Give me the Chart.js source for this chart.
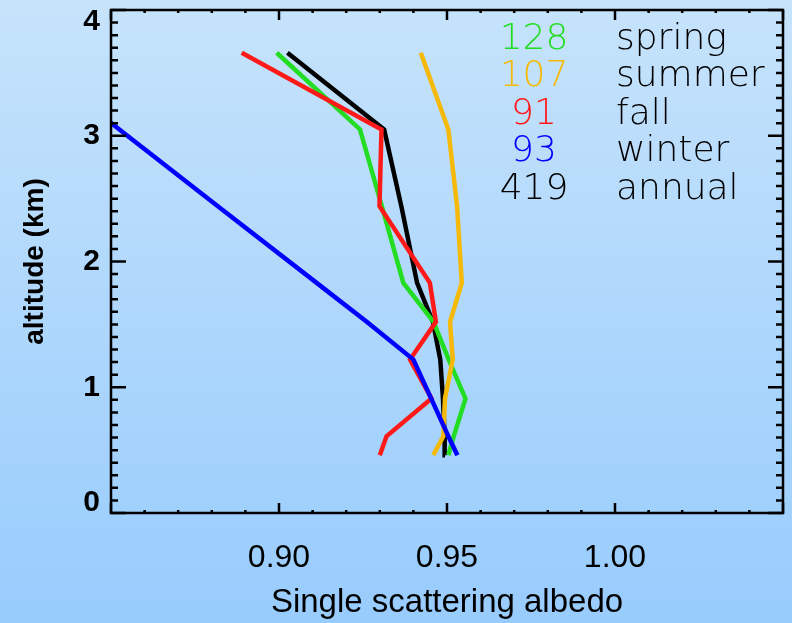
<!DOCTYPE html>
<html>
<head>
<meta charset="utf-8">
<script src="https://cdn.jsdelivr.net/npm/chart.js@4/dist/chart.umd.min.js"></script>
<style>
  html, body { margin: 0; padding: 0; }
  body {
    width: 792px; height: 623px; overflow: hidden;
    background: linear-gradient(#c6e3fb, #98ccfd);
  }
  #wrap { position: relative; width: 792px; height: 623px; }
</style>
</head>
<body>
<div id="wrap"><canvas id="ssa" width="792" height="623"></canvas></div>
<script>
// altitude levels (km) shared by every profile
const altitudes = [0.46, 0.61, 0.91, 1.22, 1.52, 1.83, 2.44, 3.05, 3.66];

// single scattering albedo per level
const spring = [0.9504, 0.9520, 0.9555, 0.9505, 0.9460, 0.9370, 0.9306, 0.9241, 0.8993];
const summer = [0.9459, 0.9489, 0.9494, 0.9517, 0.9509, 0.9544, 0.9530, 0.9504, 0.9422];
const fall   = [0.9300, 0.9320, 0.9454, 0.9390, 0.9467, 0.9449, 0.9299, 0.9305, 0.8889];
const winter = [0.9531, 0.9504, 0.9453, 0.9400, 0.9261, 0.9112, 0.8818, 0.8525, 0.8231];
const annual = [0.9494, 0.9493, 0.9488, 0.9480, 0.9458, 0.9411, 0.9364, 0.9313, 0.9025];

// number of profiles in each season
const seasons = ['spring', 'summer', 'fall', 'winter', 'annual'];
const counts  = [128, 107, 91, 93, 419];
const colors  = ['#22dd22', '#f5b90a', '#ff1a1a', '#0000ff', '#000000'];
const series  = [spring, summer, fall, winter, annual];
const drawOrder = [4, 3, 2, 1, 5];

const X_MIN = 0.85, X_MAX = 1.05;
const Y_MIN = 0, Y_MAX = 4;

// box, inward tick marks, y labels and season counts
const framePlugin = {
  id: 'frame',
  afterDatasetsDraw(chart) {
    const { ctx, chartArea: a, scales: { x, y } } = chart;
    ctx.save();
    ctx.strokeStyle = '#000';
    ctx.lineWidth = 2.5;
    ctx.strokeRect(a.left, a.top, a.right - a.left, a.bottom - a.top);

    ctx.lineWidth = 2.5;
    ctx.beginPath();
    for (let i = 85; i <= 105; i++) {
      const px = x.getPixelForValue(i / 100);
      const len = i % 5 === 0 ? 10 : 3;
      ctx.moveTo(px, a.bottom); ctx.lineTo(px, a.bottom - len);
      ctx.moveTo(px, a.top); ctx.lineTo(px, a.top + len);
    }
    for (let i = 0; i <= 40; i++) {
      const py = y.getPixelForValue(i / 10);
      const len = i % 10 === 0 ? 15 : 7;
      ctx.moveTo(a.left, py); ctx.lineTo(a.left + len, py);
      ctx.moveTo(a.right, py); ctx.lineTo(a.right - len, py);
    }
    ctx.stroke();

    // y tick labels, kept inside the frame height
    ctx.fillStyle = '#000';
    ctx.font = 'bold 30px "Liberation Sans", Arial, sans-serif';
    ctx.textAlign = 'right';
    ctx.textBaseline = 'middle';
    for (let v = Y_MIN; v <= Y_MAX; v++) {
      let py = y.getPixelForValue(v);
      py = Math.min(Math.max(py, a.top + 12), a.bottom - 10);
      ctx.fillText(String(v), a.left - 11, py);
    }

    // season legend
    ctx.font = '200 36px "DejaVu Sans", sans-serif';
    ctx.textBaseline = 'alphabetic';
    seasons.forEach((s, i) => {
      const base = 48.5 + i * 37.5;
      ctx.fillStyle = colors[i];
      ctx.textAlign = 'center';
      ctx.fillText(String(counts[i]), 534, base);
      ctx.fillStyle = '#000';
      ctx.textAlign = 'left';
      ctx.fillText(s, 616, base);
    });
    ctx.restore();
  }
};

new Chart(document.getElementById('ssa'), {
  type: 'line',
  data: {
    datasets: seasons.map((s, i) => ({
      label: s,
      data: series[i].map((v, k) => ({ x: v, y: altitudes[k] })),
      borderColor: colors[i],
      borderWidth: 4.5,
      pointRadius: 0,
      tension: 0,
      fill: false,
      clip: 0,
      order: drawOrder[i],
    })),
  },
  options: {
    responsive: false,
    animation: false,
    layout: { padding: { top: 10, right: 9, left: 0, bottom: 0 } },
    plugins: { legend: { display: false }, tooltip: { enabled: false } },
    scales: {
      x: {
        type: 'linear',
        min: X_MIN,
        max: X_MAX,
        grid: { display: false, drawTicks: false },
        border: { display: false },
        ticks: {
          stepSize: 0.05,
          autoSkip: false,
          maxRotation: 0,
          padding: 26,
          color: '#000',
          font: { family: '"Liberation Sans", Arial, sans-serif', size: 32 },
          callback: v => (v > X_MIN + 0.01 && v < X_MAX - 0.01) ? v.toFixed(2) : '',
        },
        title: {
          display: true,
          text: 'Single scattering albedo',
          color: '#000',
          font: { family: '"Liberation Sans", Arial, sans-serif', size: 33 },
          padding: { top: 0, bottom: 0 },
        },
        afterFit: s => { s.height = 110; s.paddingLeft = 0; s.paddingRight = 0; },
      },
      y: {
        type: 'linear',
        min: Y_MIN,
        max: Y_MAX,
        grid: { display: false, drawTicks: false },
        border: { display: false },
        ticks: { display: false, stepSize: 1 },
        title: {
          display: true,
          text: 'altitude (km)',
          color: '#000',
          font: { family: '"Liberation Sans", Arial, sans-serif', size: 28, weight: 'bold' },
          padding: { top: 18, bottom: 0 },
        },
        afterFit: s => { s.width = 111; s.paddingTop = 0; s.paddingBottom = 0; },
      },
    },
  },
  plugins: [framePlugin],
});
</script>
</body>
</html>
